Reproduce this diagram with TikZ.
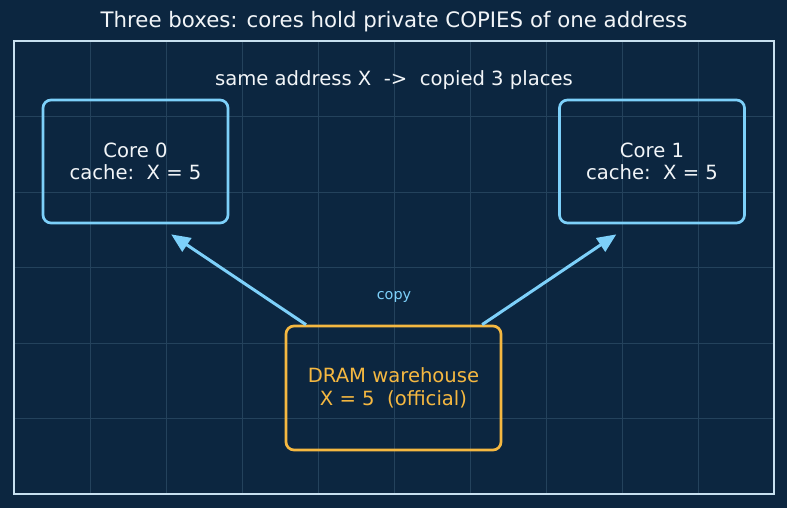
\documentclass[tikz,border=0pt]{standalone}
\usepackage{fontspec}
\setmainfont{DejaVu Sans}
\usetikzlibrary{positioning,calc,arrows.meta}
\definecolor{bgnavy}{RGB}{12,38,64}
\definecolor{gridline}{RGB}{36,66,92}
\definecolor{frameline}{RGB}{200,224,240}
\definecolor{coreline}{RGB}{125,208,250}
\definecolor{dramline}{RGB}{245,184,65}
\definecolor{textwhite}{RGB}{242,245,248}

\begin{document}
\begin{tikzpicture}[
  x=1pt, y=-1pt,
  font=\fontsize{19.6}{22.5}\selectfont, text=textwhite,
  box/.style={draw, line width=2.7pt, rounded corners=8pt, align=center, inner sep=0pt},
  core/.style={box, draw=coreline, minimum width=185pt, minimum height=123pt},
  dram/.style={box, draw=dramline, text=dramline, minimum width=215pt, minimum height=124pt},
  arr/.style={-{Triangle[length=19pt,width=16pt]}, draw=coreline, fill=coreline, line width=3pt},
  lab/.style={font=\fontsize{14.4}{17}\selectfont, text=coreline}]

% background, grid and frame
\fill[bgnavy] (0,0) rectangle (787,508);
\useasboundingbox (0,0) rectangle (787,508);
\foreach \gx in {90,166,...,700} \draw[gridline, line width=0.6pt] (\gx,41) -- (\gx,494);
\foreach \gy in {116.5,192,267.5,343,418.5} \draw[gridline, line width=0.6pt] (14,\gy) -- (774,\gy);
\draw[frameline, line width=1.5pt] (14,41) rectangle (774,494);

\node[font=\fontsize{21.3}{25}\selectfont] (title) at (394,22) {Three boxes: cores hold private COPIES of one address};
\node (note) at (394,80) {same address X\ \ ->\ \ copied 3 places};

\node[core] (core0) at (135.5,161.5) {Core 0\\cache:\ \ X = 5};
\node[core] (core1) at (652,161.5) {Core 1\\cache:\ \ X = 5};
\node[dram] (dram) at (393.5,388) {DRAM warehouse\\X = 5\ \ (official)};

\coordinate (tip0) at ($(core0.south west)!0.69!(core0.south east)+(0,10)$);
\coordinate (tip1) at ($(core1.south west)!0.31!(core1.south east)+(0,10)$);
\draw[arr] ($(dram.north west)!0.098!(dram.north east)$) -- (tip0);
\draw[arr] ($(dram.north west)!0.907!(dram.north east)$) -- (tip1);
\node[lab] (copylab) at (394,297) {copy};
\end{tikzpicture}
\end{document}
